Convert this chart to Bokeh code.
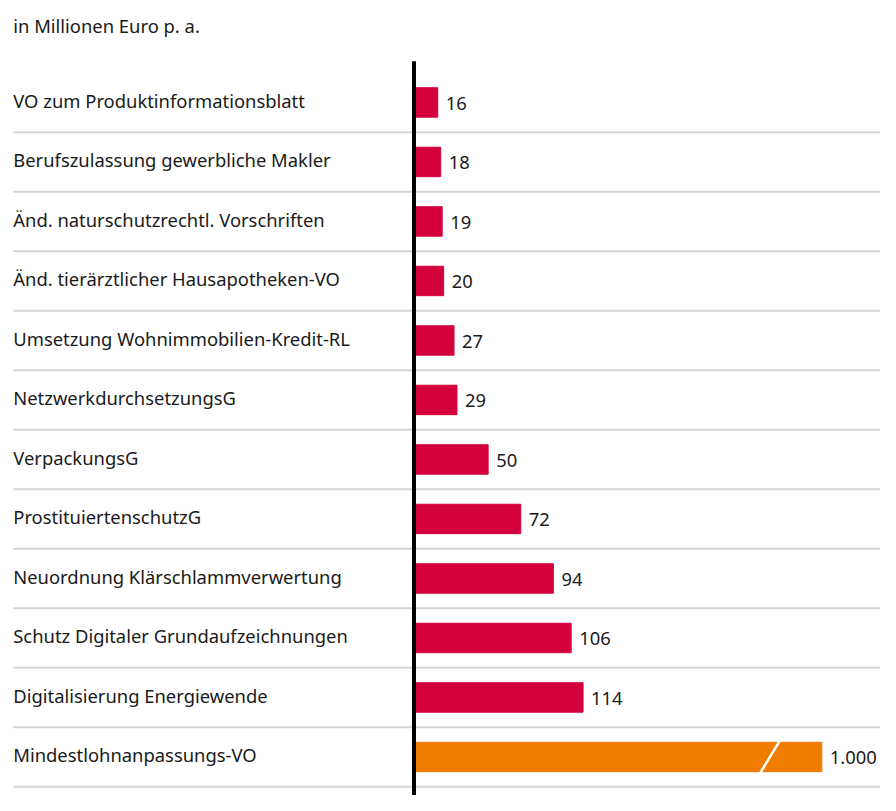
from bokeh.plotting import figure
from bokeh.models import Range1d, Label, ColumnDataSource
from bokeh.core.properties import value
from bokeh.embed import file_html
from bokeh.resources import INLINE

# ---- data ----
title_text = "in Millionen Euro p. a."
categories = [
    "VO zum Produktinformationsblatt",
    "Berufszulassung gewerbliche Makler",
    "Änd. naturschutzrechtl. Vorschriften",
    "Änd. tierärztlicher Hausapotheken-VO",
    "Umsetzung Wohnimmobilien-Kredit-RL",
    "NetzwerkdurchsetzungsG",
    "VerpackungsG",
    "ProstituiertenschutzG",
    "Neuordnung Klärschlammverwertung",
    "Schutz Digitaler Grundaufzeichnungen",
    "Digitalisierung Energiewende",
    "Mindestlohnanpassungs-VO",
]
values = [16, 18, 19, 20, 27, 29, 50, 72, 94, 106, 114, 1000]
broken = [False] * 11 + [True]

# ---- styling / layout ----
W, H = 880, 795
SX, SY = W / 896, H / 811
PX_PER_UNIT = 1.51 * SX
ZERO_PX = 421 * SX
ROW_PX = 60.7 * SY
ROW0_PX = 104.0 * SY
LEFT_PX = 13 * SX
BREAK_DISPLAY = 275      # displayed length of a broken (cut) bar
BREAK_MARK = 240         # position of the break slash
RED = "#D4003B"
ORANGE = "#F07D00"
TEXT = "#1a1a1a"
GRID = "#d6d6d6"
FONT = "Noto Sans"
FS = "18.4px"

x0 = -ZERO_PX / PX_PER_UNIT
x1 = (W - ZERO_PX) / PX_PER_UNIT
ytop = -ROW0_PX / ROW_PX
ybot = (H - ROW0_PX) / ROW_PX

p = figure(width=W, height=H, output_backend="svg", toolbar_location=None,
           x_range=Range1d(x0, x1), y_range=Range1d(ybot, ytop),
           min_border=0, outline_line_color=None)
p.axis.visible = False
p.grid.visible = False
p.background_fill_color = "white"
p.border_fill_color = "white"

n = len(categories)
ys = list(range(n))
disp = [BREAK_DISPLAY if b else v for v, b in zip(values, broken)]
colors = [ORANGE if b else RED for b in broken]
labels = [f"{v:,}".replace(",", ".") for v in values]
bar_h = 30 * SY / ROW_PX

# grid lines between rows
p.segment(x0=[x0 + LEFT_PX / PX_PER_UNIT] * n, x1=[x1] * n,
          y0=[y + 0.5 for y in ys], y1=[y + 0.5 for y in ys],
          line_color=GRID, line_width=2)

src = ColumnDataSource(dict(y=ys, right=disp, color=colors, cat=categories,
                            lab=labels, lx=[x0] * n))
p.hbar(y="y", left=0, right="right", height=bar_h, color="color", source=src)

# break slash on cut bars
for y, b in zip(ys, broken):
    if b:
        p.segment(x0=[BREAK_MARK + 6.5], y0=[y - bar_h / 2 - 0.02],
                  x1=[BREAK_MARK - 6.5], y1=[y + bar_h / 2 + 0.02],
                  line_color="white", line_width=2.5)

# baseline axis
axis_top = -(ROW0_PX - 62 * SY) / ROW_PX
p.segment(x0=[0], x1=[0], y0=[axis_top], y1=[ybot + 1], line_color="black", line_width=4)

p.text(x="lx", y="y", text="cat", source=src, x_offset=LEFT_PX, y_offset=-2,
       text_baseline="middle", text_align="left", text_color=TEXT,
       text_font=value(FONT), text_font_size=FS)
p.text(x="right", y="y", text="lab", source=src, x_offset=8, y_offset=1,
       text_baseline="middle", text_align="left", text_color=TEXT,
       text_font=value(FONT), text_font_size=FS)

p.add_layout(Label(x=LEFT_PX, y=H - 25 * SY, x_units="screen", y_units="screen",
                   text=title_text, text_baseline="middle", text_color=TEXT,
                   text_font=FONT, text_font_size=FS))

open("out.html", "w").write(file_html(p, INLINE))
